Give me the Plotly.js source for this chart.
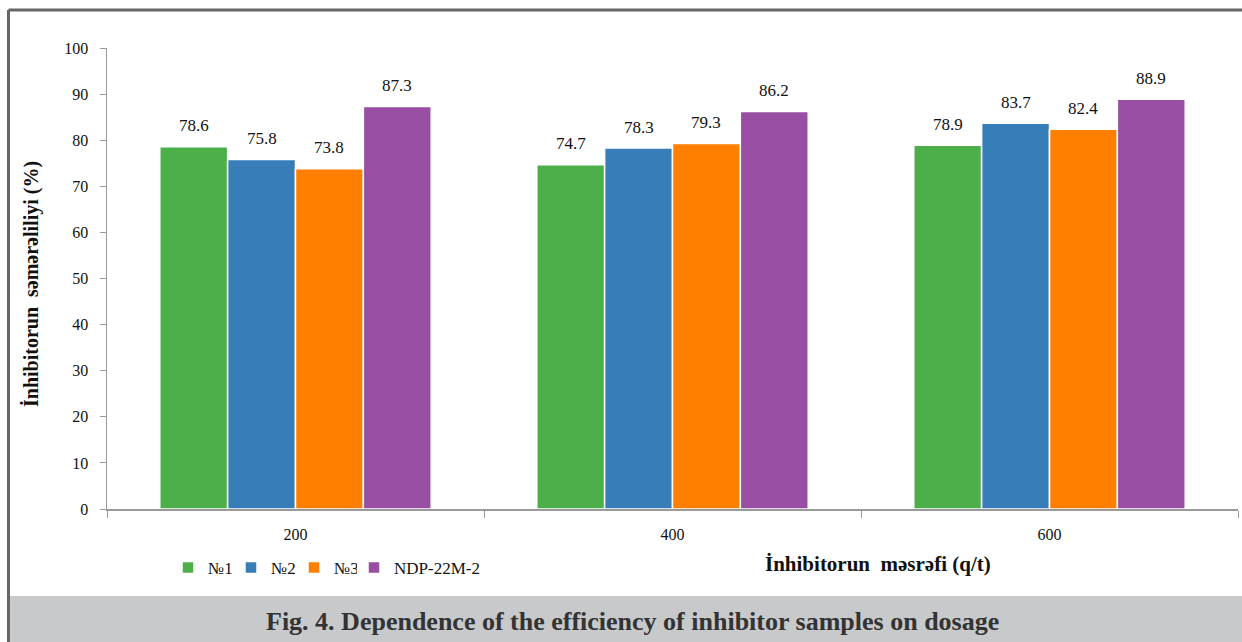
<!DOCTYPE html>
<html>
<head>
<meta charset="utf-8">
<script src="https://cdn.plot.ly/plotly-3.0.1.min.js"></script>
<style>html,body{margin:0;padding:0;background:#fff;}#chart{width:1242px;height:642px;}</style>
</head>
<body>
<div id="chart"></div>
<script>
const categories = ['200', '400', '600'];
const seriesNames = ['№1', '№2', '№3', 'NDP-22M-2'];
const s1 = [78.6, 74.7, 78.9];
const s2 = [75.8, 78.3, 83.7];
const s3 = [73.8, 79.3, 82.4];
const s4 = [87.3, 86.2, 88.9];
const colors = ['#4daf4a', '#377eb8', '#ff7f00', '#984ea3'];
const yTicks = [0, 10, 20, 30, 40, 50, 60, 70, 80, 90, 100];

const allSeries = [s1, s2, s3, s4];
const serif = 'Liberation Serif';
const bargap = 0.28;
const traces = allSeries.map((vals, i) => ({
  type: 'bar',
  name: seriesNames[i],
  x: categories,
  y: vals,
  legend: i < 3 ? 'legend' : 'legend2',
  marker: {color: colors[i], line: {color: '#ffffff', width: 1.5}},
  hoverinfo: 'none'
}));

// value labels above bars, positioned via category index + group offset
const barW = (1 - bargap) / allSeries.length;
const annotations = [];
allSeries.forEach((vals, i) => {
  vals.forEach((v, j) => {
    annotations.push({
      xref: 'x', yref: 'y', xanchor: 'center', yanchor: 'middle',
      x: j + (i - (allSeries.length - 1) / 2) * barW,
      y: v, yshift: 21, showarrow: false,
      text: v.toFixed(1),
      font: {family: serif, size: 17, color: '#111'}
    });
  });
});
const px = (p) => (p - 107) / 1131;
const py = (p) => (509 - p) / 461;
annotations.push({
  xref: 'paper', yref: 'paper', x: px(31), y: py(284), textangle: -90,
  xanchor: 'center', yanchor: 'middle',
  showarrow: false, text: '<b>İnhibitorun  səmərəliliyi (%)</b>',
  font: {family: serif, size: 20, color: '#111'}
});
annotations.push({
  xref: 'paper', yref: 'paper', x: px(878), y: py(564),
  xanchor: 'center', yanchor: 'middle',
  showarrow: false, text: '<b>İnhibitorun  məsrəfi (q/t)</b>',
  font: {family: serif, size: 21, color: '#111'}
});
annotations.push({
  xref: 'paper', yref: 'paper', x: px(632), y: py(621),
  xanchor: 'center', yanchor: 'middle',
  showarrow: false, text: '<b>Fig. 4. Dependence of the efficiency of inhibitor samples on dosage</b>',
  font: {family: serif, size: 26, color: '#333'}
});

const shapes = [
  {type: 'rect', xref: 'paper', yref: 'paper', layer: 'below',
   x0: px(9), x1: px(1300), y0: py(596), y1: py(700),
   fillcolor: '#c8c9cb', line: {width: 0}},
  {type: 'line', xref: 'paper', yref: 'paper', layer: 'below',
   x0: px(8.5), x1: px(1300), y0: py(10), y1: py(10),
   line: {color: '#666', width: 3}},
  {type: 'line', xref: 'paper', yref: 'paper', layer: 'below',
   x0: px(8.5), x1: px(8.5), y0: py(10), y1: py(700),
   line: {color: '#666', width: 3}}
];

const legendFont = {family: serif, size: 17, color: '#111'};
const layout = {
  width: 1242, height: 642,
  margin: {l: 107, r: 4, t: 48, b: 133},
  paper_bgcolor: '#ffffff', plot_bgcolor: '#ffffff',
  barmode: 'group', bargap: bargap, bargroupgap: 0,
  font: {family: serif, size: 16, color: '#111'},
  xaxis: {
    type: 'category', showgrid: false, zeroline: false,
    showline: true, linecolor: '#9a9a9a', linewidth: 1.5,
    ticks: 'outside', tickson: 'boundaries', ticklen: 7, tickcolor: '#9a9a9a',
    ticklabelstandoff: 10,
    tickfont: {family: serif, size: 16, color: '#111'}
  },
  yaxis: {
    range: [0, 100], tickvals: yTicks, showgrid: false, zeroline: false,
    showline: true, linecolor: '#9a9a9a', linewidth: 1.5,
    ticks: 'outside', ticklen: 6, tickcolor: '#9a9a9a',
    ticklabelstandoff: 8,
    tickfont: {family: serif, size: 16, color: '#111'}
  },
  legend: {
    orientation: 'h', x: px(168), y: py(568), xanchor: 'left', yanchor: 'middle',
    font: legendFont, itemwidth: 30,
    entrywidth: 18, entrywidthmode: 'pixels',
    bgcolor: 'rgba(0,0,0,0)'
  },
  legend2: {
    orientation: 'h', x: px(354), y: py(568), xanchor: 'left', yanchor: 'middle',
    font: legendFont, itemwidth: 30,
    bgcolor: 'rgba(0,0,0,0)'
  },
  annotations: annotations,
  shapes: shapes,
  showlegend: true
};

Plotly.newPlot('chart', traces, layout, {staticPlot: true, displayModeBar: false});
</script>
</body>
</html>
